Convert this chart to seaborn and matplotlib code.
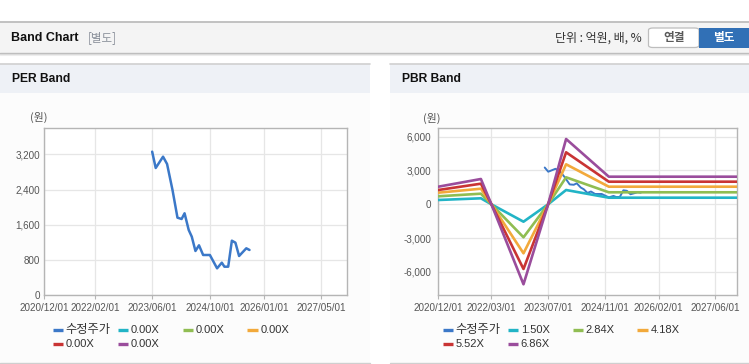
import matplotlib
matplotlib.use("Agg")
import matplotlib.pyplot as plt
import matplotlib.dates as mdates
import seaborn as sns
import pandas as pd
from matplotlib.patches import Rectangle, FancyBboxPatch
from matplotlib.lines import Line2D

# ---------------- data ----------------
price_dates = ["2023-06-01", "2023-07-01", "2023-09-01", "2023-10-05", "2023-11-20",
               "2024-01-01", "2024-02-05", "2024-03-01", "2024-04-05", "2024-05-01",
               "2024-06-01", "2024-07-01", "2024-08-05", "2024-10-01", "2024-12-01",
               "2025-01-10", "2025-02-01", "2025-03-05", "2025-04-05", "2025-05-05",
               "2025-06-05", "2025-08-05", "2025-09-01"]
price_values = [3264, 2893, 3150, 2984, 2393, 1764, 1734, 1864, 1484, 1332,
                1007, 1136, 916, 916, 613, 741, 650, 650, 1241, 1196,
                893, 1068, 1030]

band_dates = ["2020-12-01", "2021-12-01", "2022-03-01", "2022-12-01",
              "2023-06-30", "2023-12-01", "2024-12-01", "2027-12-07"]
pbr_150 = [382, 532, 0, -1544, 0, 1269, 586, 586]
pbr_284 = [710, 941, 0, -2929, 0, 2396, 1065, 1065]
pbr_418 = [1030, 1385, 0, -4349, 0, 3550, 1562, 1562]
pbr_552 = [1269, 1829, 0, -5742, 0, 4615, 2006, 2006]
pbr_686 = [1562, 2245, 0, -7100, 0, 5795, 2450, 2450]

price_label = "수정주가"
pbr_labels = ["1.50X", "2.84X", "4.18X", "5.52X", "6.86X"]
per_labels = ["0.00X", "0.00X", "0.00X", "0.00X", "0.00X"]

per_xticks = ["2020-12-01", "2022-02-01", "2023-06-01", "2024-10-01", "2026-01-01", "2027-05-01"]
per_xticklabels = ["2020/12/01", "2022/02/01", "2023/06/01", "2024/10/01", "2026/01/01", "2027/05/01"]
pbr_xticks = ["2020-12-01", "2022-03-01", "2023-07-01", "2024-11-01", "2026-02-01", "2027-06-01"]
pbr_xticklabels = ["2020/12/01", "2022/03/01", "2023/07/01", "2024/11/01", "2026/02/01", "2027/06/01"]
per_yticks = [0, 800, 1600, 2400, 3200]
per_yticklabels = ["0", "800", "1,600", "2,400", "3,200"]
pbr_yticks = [-6000, -3000, 0, 3000, 6000]
pbr_yticklabels = ["-6,000", "-3,000", "0", "3,000", "6,000"]

# ---------------- style ----------------
price_color = "#3b78c8"
band_colors = ["#22b4c6", "#90bd52", "#f2a93b", "#c93434", "#9a4d9c"]

sns.set_theme(style="white")
plt.rcParams["font.family"] = ["Liberation Sans", "Noto Sans CJK KR", "DejaVu Sans"]
KR = ["Noto Sans CJK KR", "Liberation Sans", "DejaVu Sans"]

W, H = 749, 364
fig = plt.figure(figsize=(W / 100, H / 100), dpi=100)
fig.patch.set_facecolor("white")


def fx(x):
    return x / W


def fy(y):
    return 1 - y / H


def rect(x0, y0, x1, y1, fc, ec="none", lw=0, z=-5):
    fig.patches.append(Rectangle((fx(x0), fy(y1)), (x1 - x0) / W, (y1 - y0) / H,
                                 transform=fig.transFigure, facecolor=fc,
                                 edgecolor=ec, linewidth=lw, zorder=z))


def hline(x0, x1, y, color, lw=1.0, z=-4):
    fig.add_artist(Line2D([fx(x0), fx(x1)], [fy(y), fy(y)], transform=fig.transFigure,
                          color=color, lw=lw, zorder=z))


# top header bar
rect(0, 22, 749, 52.5, "#f4f4f4")
hline(0, 749, 21.8, "#b8b8b8", 1.2)
hline(0, 749, 52.8, "#bdbdbd", 1.0)
hline(0, 749, 53.8, "#dadada", 0.8)
hline(0, 749, 54.8, "#ededed", 0.8)
fig.text(fx(11), fy(38), "Band Chart", fontsize=9.0, fontweight="bold", color="#111",
         va="center", ha="left")
fig.text(fx(88), fy(38), "[별도]", fontsize=8.3, color="#8a909a", va="center", ha="left",
         family=KR)
fig.text(fx(642), fy(38), "단위 : 억원, 배, %", fontsize=8.6, color="#333", va="center",
         ha="right", family=KR)
fig.patches.append(FancyBboxPatch((fx(648.5), fy(47.5)), (699 - 648.5) / W, 19.5 / H,
                                  boxstyle="round,pad=0,rounding_size=0.006",
                                  transform=fig.transFigure, facecolor="white",
                                  edgecolor="#bdbdbd", linewidth=0.9, zorder=-3))
fig.text(fx(674), fy(37.8), "연결", fontsize=8.4, fontweight="bold", color="#5a5a5a",
         va="center", ha="center", family=KR)
rect(699, 27.7, 749, 47.7, "#3170b6", z=-3)
fig.text(fx(724), fy(37.8), "별도", fontsize=8.4, fontweight="bold", color="white",
         va="center", ha="center", family=KR)

# panel headers and backgrounds
for (x0, x1, title) in [(0, 370, "PER Band"), (390, 749, "PBR Band")]:
    rect(x0, 64, x1, 93, "#eef1f6")
    rect(x0, 93, x1, 363, "#fcfcfc")
    hline(x0, x1, 64.2, "#d0d0d0", 1.2)
    hline(x0, x1, 363.3, "#cfcfcf", 1.0)
    fig.text(fx(x0 + 11.5), fy(79.5), title, fontsize=8.7, fontweight="bold",
             color="#111", va="center", ha="left")

# ---------------- dataframes ----------------
price_df = pd.DataFrame({"date": pd.to_datetime(price_dates), "value": price_values})
band_series = [pbr_150, pbr_284, pbr_418, pbr_552, pbr_686]
band_df = pd.concat([
    pd.DataFrame({"date": pd.to_datetime(band_dates), "value": vals, "series": lab})
    for lab, vals in zip(pbr_labels, band_series)
], ignore_index=True)

xmin = pd.Timestamp("2020-12-01")
xmax = pd.Timestamp("2027-12-07")


def style_axes(ax, xt, xtl, yt, ytl, ypad):
    ax.set_facecolor("white")
    ax.set_xlim(mdates.date2num(xmin), mdates.date2num(xmax))
    ax.set_xticks(mdates.date2num(pd.to_datetime(xt)))
    ax.set_xticklabels(xtl)
    ax.set_yticks(yt)
    ax.set_yticklabels(ytl)
    ax.grid(True, color="#e6e6e6", lw=0.9)
    ax.set_axisbelow(True)
    for s in ax.spines.values():
        s.set_color("#b5b5b5")
        s.set_linewidth(1.0)
    ax.tick_params(axis="x", length=3, width=0.8, color="#b5b5b5", labelsize=7.1,
                   labelcolor="#555555", pad=2.5, bottom=True)
    ax.tick_params(axis="y", length=0, labelsize=7.1, labelcolor="#555555", pad=ypad, left=False)
    ax.set_xlabel("")
    ax.set_ylabel("")


# PER axes
ax1 = fig.add_axes([fx(44.3), fy(295.3), 303 / W, 167 / H])
sns.lineplot(data=price_df, x="date", y="value", ax=ax1, color=price_color, lw=1.8,
             legend=False, estimator=None)
ax1.set_ylim(0, 3795)
style_axes(ax1, per_xticks, per_xticklabels, per_yticks, per_yticklabels, 3)

# PBR axes
ax2 = fig.add_axes([fx(438.3), fy(295), 299 / W, 166.7 / H])
sns.lineplot(data=price_df, x="date", y="value", ax=ax2, color=price_color, lw=1.4,
             legend=False, estimator=None, zorder=2)
sns.lineplot(data=band_df, x="date", y="value", hue="series", ax=ax2,
             palette=dict(zip(pbr_labels, band_colors)), lw=1.9, legend=False,
             estimator=None, zorder=3)
ax2.set_ylim(-8050, 6745)
style_axes(ax2, pbr_xticks, pbr_xticklabels, pbr_yticks, pbr_yticklabels, 5)

# unit labels
fig.text(fx(39), fy(117), "(원)", fontsize=7.8, color="#555", ha="center", va="center", family=KR)
fig.text(fx(432), fy(118), "(원)", fontsize=7.8, color="#555", ha="center", va="center", family=KR)


# legends
def legend_block(x_start, labels, colors):
    cols = [0, 65, 130, 194.6]
    rows = [330, 344.3]
    for i, (lab, col) in enumerate(zip(labels, colors)):
        r, c = divmod(i, 4)
        x = x_start + cols[c]
        y = rows[r]
        fig.add_artist(Line2D([fx(x), fx(x + 10.5)], [fy(y), fy(y)], transform=fig.transFigure,
                              color=col, lw=2.4, solid_capstyle="butt"))
        fam = KR if lab == price_label else ["Liberation Sans", "DejaVu Sans"]
        fig.text(fx(x + 13), fy(y), lab, fontsize=8.8 if lab == price_label else 8.0,
                 color="#333", ha="left", va="center", family=fam)


legend_block(52.7, [price_label] + per_labels, [price_color] + band_colors)
legend_block(442.7, [price_label] + pbr_labels, [price_color] + band_colors)

fig.savefig("out.png", dpi=100, facecolor="white")
